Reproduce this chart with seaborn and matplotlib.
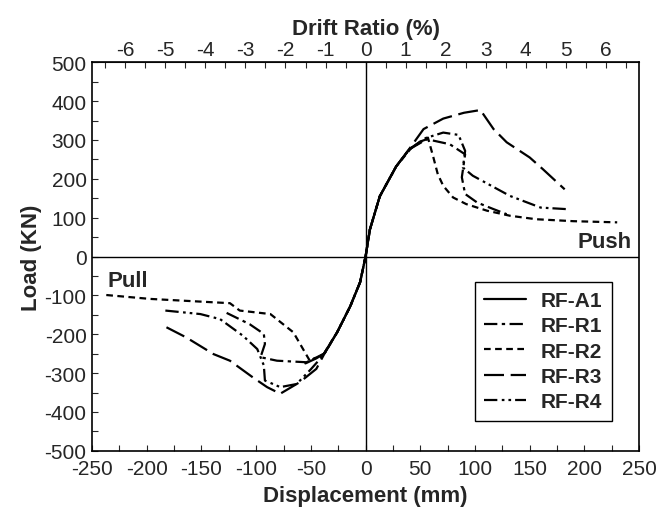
import matplotlib
matplotlib.use("Agg")
import matplotlib.pyplot as plt
import seaborn as sns
from matplotlib.ticker import MultipleLocator

# -------------------- DATA --------------------
SPECIMENS = ["RF-A1", "RF-R1", "RF-R2", "RF-R3", "RF-R4"]

a1_disp = [-55, -45, -38, -26, -14, -5, 0, 4, 13, 28, 40, 50, 56]
a1_load = [-275, -262, -250, -195, -128, -66, 0, 70, 155, 232, 276, 296, 302]

r1_disp = [-127, -106, -93, -92, -96, -81, -54, -38, -26, -14, -5, 0,
           4, 13, 28, 40, 56, 77, 91, 88, 91, 102, 117, 129]
r1_load = [-145, -174, -199, -225, -259, -268, -272, -250, -195, -128, -66, 0,
           70, 155, 232, 276, 302, 289, 263, 204, 161, 139, 122, 109]

r2_disp = [-237, -197, -124, -115, -87, -66, -51, -38, -26, -14, -5, 0,
           4, 13, 28, 42, 57, 62, 66, 71, 80, 92, 111, 132, 156, 190, 230]
r2_load = [-99, -109, -120, -139, -148, -195, -268, -250, -195, -128, -66, 0,
           70, 155, 232, 280, 306, 255, 212, 182, 152, 135, 118, 105, 96, 91, 88]

r3_disp = [-182, -164, -139, -124, -103, -90, -78, -60, -45, -38, -26, -14, -5, 0,
           4, 13, 28, 41, 53, 71, 90, 105, 117, 129, 150, 162, 182]
r3_load = [-182, -208, -251, -268, -311, -336, -353, -323, -289, -252, -195, -128, -66, 0,
           70, 155, 232, 281, 328, 355, 370, 377, 328, 294, 255, 225, 173]

r4_disp = [-183, -151, -133, -112, -99, -93, -92, -78, -63, -50, -38, -26, -14, -5, 0,
           4, 13, 28, 40, 55, 71, 85, 91, 89, 98, 132, 160, 184]
r4_load = [-139, -148, -161, -204, -238, -280, -319, -336, -328, -290, -252, -195, -128, -66, 0,
           70, 155, 232, 276, 305, 319, 313, 272, 229, 208, 156, 126, 122]

DRIFT_TICKS = [-6, -5, -4, -3, -2, -1, 0, 1, 2, 3, 4, 5, 6]
STORY_MM = 36.6  # mm of displacement per 1 % drift

# -------------------- PLOT --------------------
sns.set_style("ticks")
plt.rcParams["font.family"] = ["Liberation Sans", "DejaVu Sans"]
plt.rcParams["axes.unicode_minus"] = False

series = [
    (a1_disp, a1_load, "-"),
    (r1_disp, r1_load, (0, (6, 2, 1.5, 2))),
    (r2_disp, r2_load, (0, (3, 2))),
    (r3_disp, r3_load, (0, (9, 3))),
    (r4_disp, r4_load, (0, (6, 2, 1.2, 1.8, 1.2, 1.8))),
]

fig = plt.figure(figsize=(6.72, 5.10), dpi=100)
ax = fig.add_axes([0.137, 0.114, 0.814, 0.762])

ax.axhline(0, color="k", lw=1)
ax.axvline(0, color="k", lw=1)

for name, (xs, ys, ls) in zip(SPECIMENS, series):
    sns.lineplot(x=xs, y=ys, ax=ax, sort=False, estimator=None, color="k",
                 linestyle=ls, linewidth=1.6, label=name)

ax.set_xlim(-250, 250)
ax.set_ylim(-500, 500)
ax.xaxis.set_major_locator(MultipleLocator(50))
ax.xaxis.set_minor_locator(MultipleLocator(25))
ax.yaxis.set_major_locator(MultipleLocator(100))
ax.yaxis.set_minor_locator(MultipleLocator(50))
ax.tick_params(which="both", direction="in", length=4, width=0.8, labelsize=15)
ax.tick_params(axis="x", pad=6)
ax.tick_params(axis="y", pad=4)
for s in ax.spines.values():
    s.set_linewidth(1.2)
    s.set_color("k")

ax.set_xlabel("Displacement (mm)", fontsize=16, fontweight="bold", labelpad=5)
ax.set_ylabel("Load (KN)", fontsize=16, fontweight="bold", labelpad=2)

top = ax.secondary_xaxis("top", functions=(lambda x: x / STORY_MM, lambda p: p * STORY_MM))
top.set_xticks(DRIFT_TICKS)
top.xaxis.set_minor_locator(MultipleLocator(0.5))
top.tick_params(which="both", direction="in", length=4, width=0.8, labelsize=15, pad=2)
top.set_xlabel("Drift Ratio (%)", fontsize=16, fontweight="bold", labelpad=5)

ax.text(243, 40, "Push", ha="right", va="center", fontsize=16, fontweight="bold")
ax.text(-236, -61, "Pull", ha="left", va="center", fontsize=16, fontweight="bold")

leg = ax.legend(loc="lower right", bbox_to_anchor=(0.969, 0.051), frameon=True,
                fancybox=False, edgecolor="k", framealpha=1, handlelength=2.0,
                prop={"weight": "bold", "size": 15}, borderpad=0.45, labelspacing=0.3,
                handletextpad=0.7)
leg.get_frame().set_linewidth(1.0)

fig.savefig("out.png", dpi=100)
